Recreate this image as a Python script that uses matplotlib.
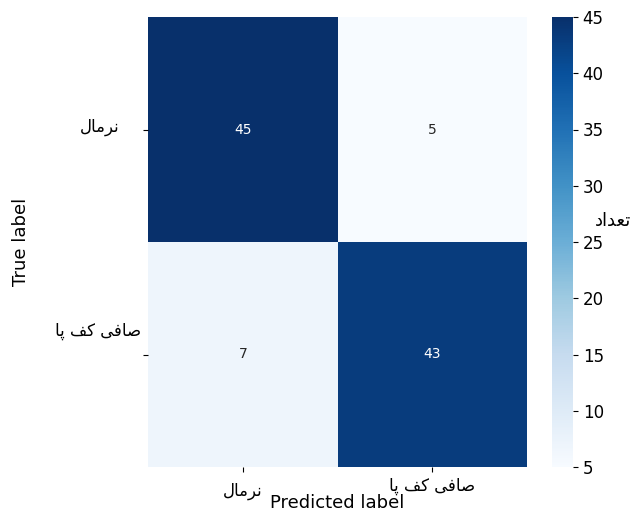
import numpy as np
import matplotlib
matplotlib.use("Agg")
import matplotlib.pyplot as plt
from matplotlib.transforms import ScaledTranslation
import seaborn as sns

# Persian labels written with presentation forms in visual order
# (matplotlib does no Arabic shaping or bidi by itself)
class_names = ["\uFEDD\uFE8E\uFEE3\uFEAE\uFEE7",                        # نرمال
               "\uFE8E\uFB58 \uFED2\uFB90 \uFEF0\uFED3\uFE8E\uFEBB"]    # صافی کف پا
cbar_title = "\uFEA9\uFE8D\uFEAA\uFECC\uFE97"                            # تعداد

counts = np.array([[45, 5],
                   [7, 43]])

plt.rcParams['font.family'] = ['DejaVu Sans']

fig = plt.figure(figsize=(6.31, 5.14), dpi=100)
ax = fig.add_axes([148/631, 1 - 467/514, 379/631, 450/514])
cax = fig.add_axes([552/631, 1 - 467/514, 21/631, 450/514])

sns.heatmap(counts, annot=True, fmt='d', cmap='Blues', ax=ax, cbar_ax=cax,
            xticklabels=class_names, yticklabels=class_names,
            annot_kws={'fontsize': 10})

ax.set_xticklabels(class_names, rotation=0, fontsize=12)
ax.set_yticklabels(class_names, rotation=0, fontsize=12)
ax.set_xlabel('Predicted label', fontsize=13, va='top')
ax.set_ylabel('True label', fontsize=13)
ax.xaxis.set_label_coords(0.5, -0.06)
ax.yaxis.set_label_coords(-0.311, 0.5)

# nudge the tick labels (pixels) to sit where the reference has them
def nudge(lbl, dx, dy):
    lbl.set_transform(lbl.get_transform() +
                      ScaledTranslation(dx / 100, dy / 100, fig.dpi_scale_trans))

ylbls = ax.get_yticklabels()
nudge(ylbls[0], -19, 3)
nudge(ylbls[1], 3, 24)
xlbls = ax.get_xticklabels()
nudge(xlbls[0], 0, -5)

cbar = ax.collections[0].colorbar
cbar.outline.set_visible(False)
cbar.ax.tick_params(labelsize=12)
cbar.set_label(cbar_title, rotation=0, fontsize=13, ha='center')
cbar.ax.yaxis.set_label_coords(2.9, 0.567)

fig.savefig('out.png', dpi=100)
